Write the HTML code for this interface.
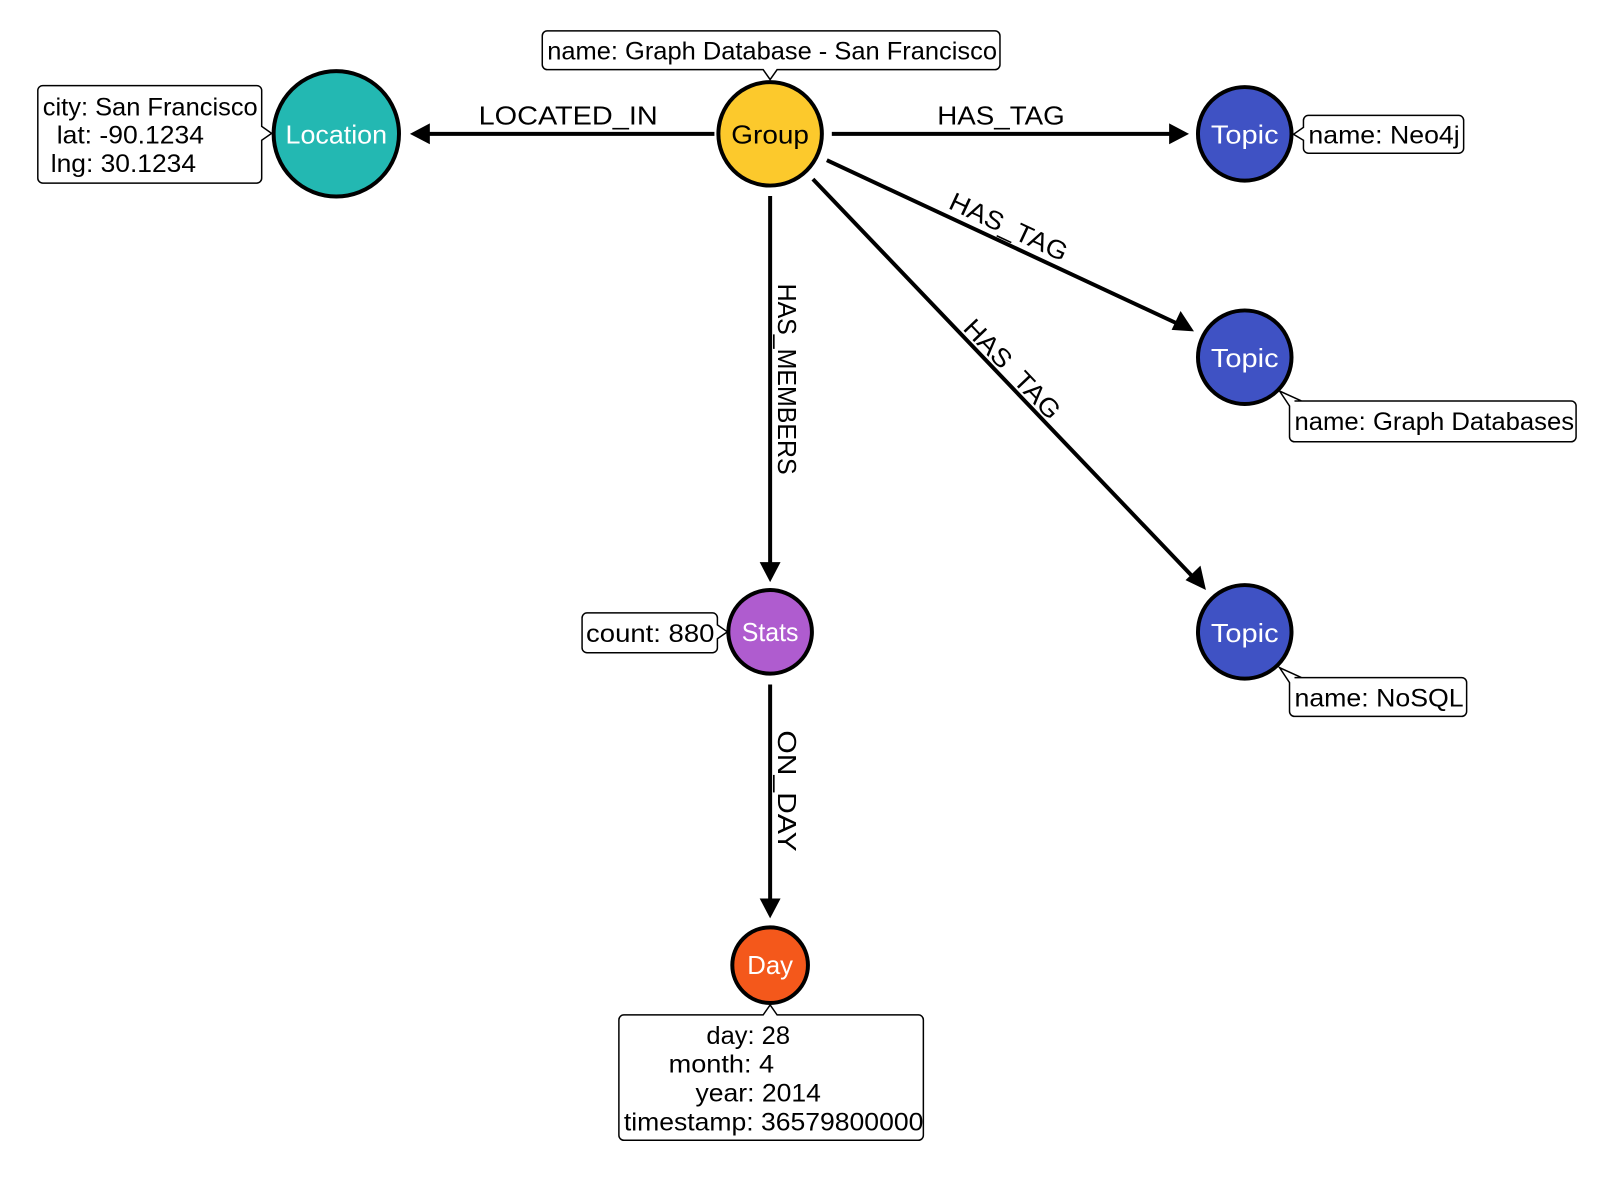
<!DOCTYPE html>
<html><head><meta charset="utf-8"><style>
html,body{margin:0;padding:0;background:#fff;}
svg{display:block;}
text{font-family:"Liberation Sans",sans-serif;}
</style></head><body>
<svg width="1614" height="1188" viewBox="0 0 1614 1188" xmlns="http://www.w3.org/2000/svg">
<g transform="scale(0.995)">
<g stroke="#000" stroke-width="4" fill="none">
<line x1="718" y1="134.5" x2="425" y2="134.5"/>
<line x1="836" y1="134.5" x2="1180" y2="134.5"/>
<line x1="774" y1="197" x2="774" y2="570"/>
<line x1="774" y1="688" x2="774" y2="908"/>
<line x1="831" y1="161" x2="1186" y2="326.5"/>
<line x1="817" y1="180" x2="1201" y2="582"/>
</g>
<g fill="#000">
<polygon points="412,134.5 432,124 432,145"/>
<polygon points="1195,134.5 1175,124 1175,145"/>
<polygon points="774,585 763.5,565 784.5,565"/>
<polygon points="774,923 763.5,903 784.5,903"/>
<polygon points="1200,333 1177.5,331.5 1186.5,312.5"/>
<polygon points="1212,593 1191.5,583 1206.5,568.5"/>
</g>
<g font-size="26" fill="#000">
<text x="571" y="125" text-anchor="middle" textLength="180" lengthAdjust="spacingAndGlyphs">LOCATED_IN</text>
<text x="1006" y="125" text-anchor="middle" textLength="128" lengthAdjust="spacingAndGlyphs">HAS_TAG</text>
<text transform="translate(782,381) rotate(90)" text-anchor="middle" textLength="192" lengthAdjust="spacingAndGlyphs">HAS_MEMBERS</text>
<text transform="translate(782,795) rotate(90)" text-anchor="middle" textLength="122" lengthAdjust="spacingAndGlyphs">ON_DAY</text>
<text transform="translate(1010,236) rotate(25)" text-anchor="middle" textLength="128" lengthAdjust="spacingAndGlyphs">HAS_TAG</text>
<text transform="translate(1011,377) rotate(46.3)" text-anchor="middle" textLength="128" lengthAdjust="spacingAndGlyphs">HAS_TAG</text>
</g>
<g stroke="#000" stroke-width="1.5" fill="#fff">
<path d="M550,31 H1000 a5,5 0 0 1 5,5 V65 a5,5 0 0 1 -5,5 H781 L774,80 L767,70 H550 a5,5 0 0 1 -5,-5 V36 a5,5 0 0 1 5,-5 Z"/>
<path d="M43,86 H258 a5,5 0 0 1 5,5 V127 L273,134 L263,141 V179 a5,5 0 0 1 -5,5 H43 a5,5 0 0 1 -5,-5 V91 a5,5 0 0 1 5,-5 Z"/>
<path d="M1315,116 H1466 a5,5 0 0 1 5,5 V149 a5,5 0 0 1 -5,5 H1315 a5,5 0 0 1 -5,-5 V141 L1300,135 L1310,128 V121 a5,5 0 0 1 5,-5 Z"/>
<path d="M1301,403 H1579 a5,5 0 0 1 5,5 V439 a5,5 0 0 1 -5,5 H1301 a5,5 0 0 1 -5,-5 V408 L1286,393 L1308,403 Z"/>
<path d="M1301,681 H1469 a5,5 0 0 1 5,5 V715 a5,5 0 0 1 -5,5 H1301 a5,5 0 0 1 -5,-5 V686 L1286,671 L1308,681 Z"/>
<path d="M590,616 H716 a5,5 0 0 1 5,5 V628 L731,635 L721,642 V651 a5,5 0 0 1 -5,5 H590 a5,5 0 0 1 -5,-5 V621 a5,5 0 0 1 5,-5 Z"/>
<path d="M627,1020 H767 L774,1010 L781,1020 H923 a5,5 0 0 1 5,5 V1141 a5,5 0 0 1 -5,5 H627 a5,5 0 0 1 -5,-5 V1025 a5,5 0 0 1 5,-5 Z"/>
</g>
<g font-size="25" fill="#000">
<text x="550" y="60" textLength="452" lengthAdjust="spacingAndGlyphs">name: Graph Database - San Francisco</text>
<text x="43" y="116" textLength="216" lengthAdjust="spacingAndGlyphs">city: San Francisco</text>
<text x="57" y="144" textLength="148" lengthAdjust="spacingAndGlyphs">lat: -90.1234</text>
<text x="51" y="173" textLength="146" lengthAdjust="spacingAndGlyphs">lng: 30.1234</text>
<text x="1315" y="144" textLength="152" lengthAdjust="spacingAndGlyphs">name: Neo4j</text>
<text x="1301" y="432" textLength="281" lengthAdjust="spacingAndGlyphs">name: Graph Databases</text>
<text x="1301" y="710" textLength="170" lengthAdjust="spacingAndGlyphs">name: NoSQL</text>
<text x="589" y="645" textLength="129" lengthAdjust="spacingAndGlyphs">count: 880</text>
<text x="710" y="1049" textLength="84" lengthAdjust="spacingAndGlyphs">day: 28</text>
<text x="672" y="1078" textLength="106" lengthAdjust="spacingAndGlyphs">month: 4</text>
<text x="699" y="1107" textLength="126" lengthAdjust="spacingAndGlyphs">year: 2014</text>
<text x="627" y="1136" textLength="301" lengthAdjust="spacingAndGlyphs">timestamp: 36579800000</text>
</g>
<g stroke="#000" stroke-width="4">
<circle cx="338" cy="134.5" r="63" fill="#23b8b2"/>
<circle cx="774" cy="134.5" r="52" fill="#fcc92c"/>
<circle cx="1251" cy="134.5" r="47" fill="#3f52c4"/>
<circle cx="1251" cy="359" r="47" fill="#3f52c4"/>
<circle cx="1251" cy="635" r="47" fill="#3f52c4"/>
<circle cx="774" cy="635" r="42" fill="#af5ccf"/>
<circle cx="774" cy="970" r="38" fill="#f4581b"/>
</g>
<g font-size="26" text-anchor="middle" fill="#fff">
<text x="338" y="144" textLength="102" lengthAdjust="spacingAndGlyphs">Location</text>
<text x="774" y="144" fill="#000" textLength="78" lengthAdjust="spacingAndGlyphs">Group</text>
<text x="1251" y="144" textLength="68" lengthAdjust="spacingAndGlyphs">Topic</text>
<text x="1251" y="369" textLength="68" lengthAdjust="spacingAndGlyphs">Topic</text>
<text x="1251" y="645" textLength="68" lengthAdjust="spacingAndGlyphs">Topic</text>
<text x="774" y="644" textLength="57" lengthAdjust="spacingAndGlyphs">Stats</text>
<text x="774" y="979" textLength="46" lengthAdjust="spacingAndGlyphs">Day</text>
</g>
</g>
</svg>
</body></html>
